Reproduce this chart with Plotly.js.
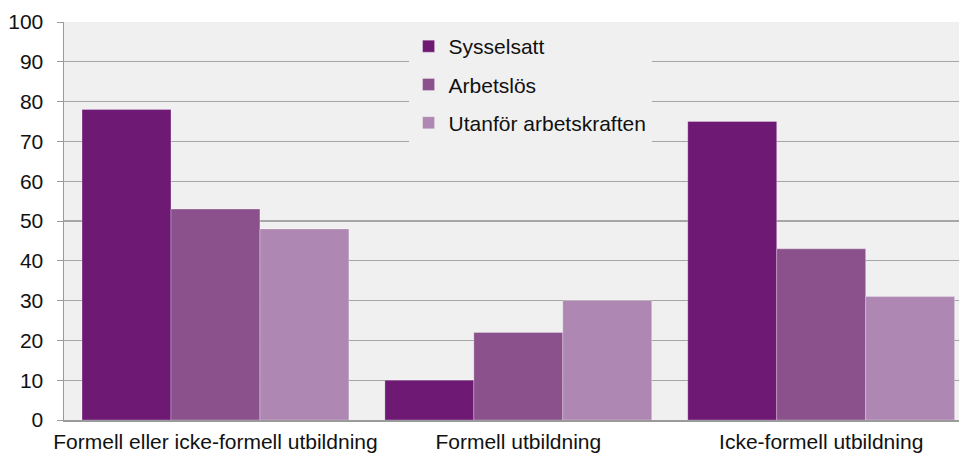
<!DOCTYPE html>
<html>
<head>
<meta charset="utf-8">
<script src="https://cdn.plot.ly/plotly-3.0.1.min.js"></script>
<style>html,body{margin:0;padding:0;background:#fff;}#chart{width:959px;height:454px;}</style>
</head>
<body>
<div id="chart"></div>
<script>
const categories = ["Formell eller icke-formell utbildning", "Formell utbildning", "Icke-formell utbildning"];
const seriesNames = ["Sysselsatt", "Arbetslös", "Utanför arbetskraften"];
const sysselsatt = [78, 10, 75];
const arbetslos = [53, 22, 43];
const utanfor = [48, 30, 31];
const yTicks = [0, 10, 20, 30, 40, 50, 60, 70, 80, 90, 100];

const colors = ["#6e1974", "#8b518c", "#ae87b2"];
const values = [sysselsatt, arbetslos, utanfor];

const traces = values.map((v, i) => ({
  type: "bar",
  name: seriesNames[i],
  x: categories,
  y: v,
  legendgroup: "g" + i,
  marker: { color: colors[i], line: { color: "rgba(255,255,255,0.35)", width: 0.8 } },
  hoverinfo: "none"
}));

const layout = {
  width: 959,
  height: 454,
  margin: { l: 64, r: 0, t: 22, b: 34, pad: 0 },
  paper_bgcolor: "#ffffff",
  plot_bgcolor: "#f0f0f0",
  barmode: "group",
  bargap: 0.119,
  bargroupgap: 0,
  font: { family: "Liberation Sans, Arial, sans-serif", size: 21, color: "#111111" },
  showlegend: true,
  legend: {
    x: 0.385, y: 0.99, xanchor: "left", yanchor: "top",
    bgcolor: "#f0f0f0",
    font: { size: 21, color: "#111111" },
    traceorder: "grouped",
    tracegroupgap: 8,
    itemwidth: 30
  },
  xaxis: {
    type: "category",
    range: [-0.5, 2.455],
    showgrid: false,
    showline: true,
    linecolor: "#9a9a9a",
    linewidth: 1.5,
    ticks: "",
    ticklabelstandoff: 2,
    tickfont: { size: 21, color: "#111111" },
    fixedrange: true
  },
  yaxis: {
    range: [0, 100],
    tickvals: yTicks,
    ticktext: yTicks.map(String),
    showgrid: true,
    gridcolor: "#a6a6a6",
    gridwidth: 1.3,
    showline: true,
    linecolor: "#9a9a9a",
    linewidth: 1.5,
    ticks: "outside",
    ticklen: 6,
    tickcolor: "#9a9a9a",
    ticklabelstandoff: 9,
    tickfont: { size: 21, color: "#111111" },
    zeroline: false,
    fixedrange: true
  }
};

Plotly.newPlot("chart", traces, layout, { displayModeBar: false, staticPlot: true });
</script>
</body>
</html>
